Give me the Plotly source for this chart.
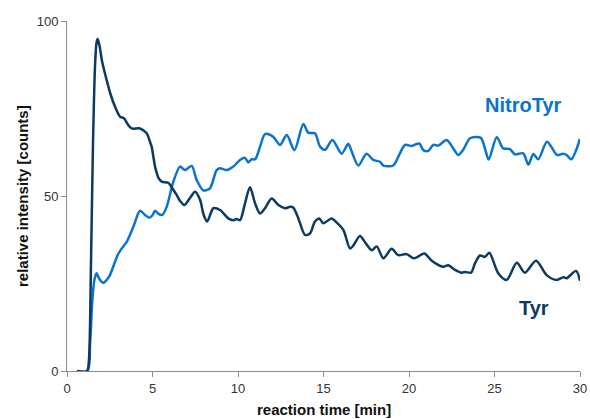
import plotly.graph_objects as go

# Tyrosine signal over the reaction
tyr_time = [0.58, 1.17, 1.28, 1.4, 1.52, 1.63, 1.72, 1.79, 1.9, 2.05, 2.32, 2.55, 2.81, 3.1,
            3.33, 3.55, 3.78, 4.27, 4.66, 4.85, 4.95, 5.15, 5.35, 5.54, 5.92, 6.15, 6.41,
            6.61, 6.86, 7.2, 7.49, 7.78, 8.0, 8.2, 8.56, 8.95, 9.43, 9.73, 9.92, 10.12,
            10.41, 10.7, 11.0, 11.29, 11.58, 11.97, 12.36, 12.75, 13.04, 13.23, 13.53,
            13.92, 14.21, 14.5, 14.75, 14.99, 15.48, 15.77, 16.16, 16.55, 16.74, 17.13,
            17.43, 17.82, 18.11, 18.5, 18.99, 19.37, 19.86, 20.25, 20.5, 20.9, 21.33,
            22.0, 22.3, 22.69, 23.08, 23.28, 23.63, 23.86, 24.15, 24.44, 24.7, 25.22,
            25.71, 26.3, 26.78, 27.43, 28.05, 28.64, 29.02, 29.22, 29.77, 30.0]
tyr_counts = [0, 0, 3, 30, 65, 86, 93.5, 94.9, 93, 88.5, 83.1, 79, 75.5, 72.7,
              72.2, 70.5, 69.3, 69.3, 67.9, 65.5, 64.1, 58.4, 55.2, 54.1, 53.8, 52.3, 50.3,
              48.6, 47.4, 49.5, 51.2, 48.9, 44.5, 42.7, 46.5, 46, 43.6, 43.1, 43.4, 43.1,
              47.9, 52.5, 47.9, 45, 46.5, 49.3, 47.4, 46.5, 46.9, 46.7, 43.6,
              38.9, 39.3, 42.7, 43.6, 42.2, 43.6, 42.4, 40.3, 35, 35.8, 38.6,
              36.8, 34.5, 35.6, 32.2, 34.9, 33.1, 33.4, 32.2, 32.6, 33.6, 31.5,
              29.8, 30.2, 28.9, 28.1, 28.3, 28.1, 30.8, 33.0, 32.6, 33.8, 27.9,
              26.0, 30.9, 28.1, 31.5, 27.4, 26.0, 26.8, 26.5, 28.6, 25.8]

# Nitrotyrosine signal over the reaction
nitro_time = [0.58, 1.2, 1.35, 1.48, 1.6, 1.73, 1.9, 2.12, 2.35, 2.51, 2.81, 3.0, 3.2,
              3.49, 3.88, 4.27, 4.56, 4.81, 5.0, 5.15, 5.35, 5.57, 5.83, 6.22, 6.61,
              6.9, 7.29, 7.58, 7.97, 8.36, 8.75, 8.95, 9.34, 9.73, 10.12, 10.41, 10.6,
              10.8, 11.0, 11.29, 11.58, 12.06, 12.46, 12.85, 13.3, 13.82, 14.11, 14.5,
              14.8, 15.09, 15.52, 16.06, 16.45, 16.65, 17.04, 17.52, 17.91, 18.3, 18.5,
              19.08, 19.47, 19.77, 20.16, 20.6, 20.84, 21.13, 21.42, 21.71, 22.2, 22.59,
              22.88, 23.18, 23.57, 24.2, 24.44, 24.66, 25.13, 25.51, 25.9, 26.2, 26.68,
              26.98, 27.27, 27.56, 28.07, 28.66, 29.0, 29.22, 29.49, 30.0]
nitro_counts = [0, 0, 8, 20, 26, 27.9, 26.2, 25.2, 26.2, 27.4, 31.2, 33.5, 35,
                36.9, 41.2, 45.8, 44.6, 43.8, 44.5, 45.8, 44.9, 44.6, 46.9, 54.1, 58.4,
                57.4, 58.6, 54.6, 51.6, 52.2, 57.4, 57.9, 57.4, 58.4, 60.3, 60.9, 59.6,
                60.5, 60.5, 64.1, 67.7, 66.9, 64.6, 67.4, 63.1, 70.6, 68.1, 67.9,
                64.1, 63.2, 66.0, 62.1, 64.9, 62.7, 58.7, 62.1, 60.3, 59.8, 58.7,
                58.7, 62.2, 64.6, 64.3, 65.0, 63.1, 62.9, 64.6, 64.4, 66.0, 63.6,
                61.7, 63.3, 66.5, 66.6, 63.6, 60.4, 66.8, 63.6, 63.4, 61.9, 62.2,
                59.0, 62.0, 60.5, 65.5, 61.7, 62.1, 61.7, 60.5, 66.3]

tyr_color = "#0b3a62"
nitro_color = "#0a74cc"
font_family = "Liberation Sans, Arial, sans-serif"

fig = go.Figure()
fig.add_trace(go.Scatter(x=nitro_time, y=nitro_counts, mode="lines", name="NitroTyr",
                         line=dict(color=nitro_color, width=2.5, shape="spline", smoothing=0.8)))
fig.add_trace(go.Scatter(x=tyr_time, y=tyr_counts, mode="lines", name="Tyr",
                         line=dict(color=tyr_color, width=2.5, shape="spline", smoothing=0.8)))

# Series labels next to their curves
fig.add_annotation(x=26.7, y=76.0, text="<b>NitroTyr</b>", showarrow=False,
                   font=dict(family=font_family, size=20, color=nitro_color))
fig.add_annotation(x=27.3, y=18.0, text="<b>Tyr</b>", showarrow=False,
                   font=dict(family=font_family, size=20, color=tyr_color))

# Axis titles placed as paper annotations
fig.add_annotation(x=0.5, y=0, xref="paper", yref="paper", yshift=-38,
                   xanchor="center", yanchor="middle", showarrow=False,
                   text="<b>reaction time [min]</b>",
                   font=dict(family=font_family, size=15, color="#111111"))
fig.add_annotation(x=0, y=0.5, xref="paper", yref="paper", xshift=-45,
                   xanchor="center", yanchor="middle", showarrow=False, textangle=-90,
                   text="<b>relative intensity [counts]</b>",
                   font=dict(family=font_family, size=15, color="#111111"))

axis_common = dict(
    showline=True, linecolor="#8c8c8c", linewidth=1,
    ticks="outside", ticklen=5, tickcolor="#8c8c8c", tickwidth=1,
    showgrid=False, zeroline=False, automargin=False,
    tickfont=dict(family=font_family, size=13, color="#333333"),
)

fig.update_xaxes(range=[0, 30], tickvals=[0, 5, 10, 15, 20, 25, 30], **axis_common)
fig.update_yaxes(range=[0, 100], tickvals=[0, 50, 100], **axis_common)

fig.update_layout(
    width=590, height=419,
    margin=dict(l=67, r=10, t=21, b=48),
    paper_bgcolor="white", plot_bgcolor="white",
    showlegend=False,
)

fig.write_html("out.html")
